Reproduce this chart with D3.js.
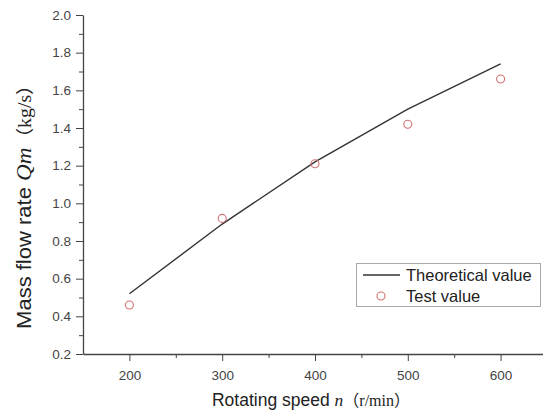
<!DOCTYPE html>
<meta charset="utf-8">
<style>
body { margin: 0; background: #fff; }
text { font-family: "Liberation Sans", Arial, sans-serif; }
.axis path, .axis line { stroke: #444; }
.axis text { font-size: 13.5px; fill: #444; }
</style>
<svg width="543" height="411"></svg>
<script src="https://d3js.org/d3.v7.min.js"></script>
<script>
var speed = [200, 300, 400, 500, 600];
var theory = [0.52, 0.89, 1.22, 1.5, 1.74];
var test = [0.46, 0.92, 1.21, 1.42, 1.66];
var xTicks = [200, 300, 400, 500, 600];
var yTicks = [0.2, 0.4, 0.6, 0.8, 1.0, 1.2, 1.4, 1.6, 1.8, 2.0];

var svg = d3.select("svg");

var x = d3.scaleLinear().domain([150, 650]).range([83, 547]);
var y = d3.scaleLinear().domain([0.2, 2.0]).range([354, 15]);

// minor ticks
svg.append("g")
    .attr("class", "axis")
    .attr("transform", "translate(0,354)")
    .call(d3.axisBottom(x).tickValues(d3.range(250, 651, 100)).tickSize(4).tickFormat(""))
    .select(".domain").remove();
svg.append("g")
    .attr("class", "axis")
    .attr("transform", "translate(83,0)")
    .call(d3.axisLeft(y).tickValues(d3.range(0.3, 2.0, 0.2)).tickSize(4).tickFormat(""))
    .select(".domain").remove();

var xAxis = svg.append("g")
    .attr("class", "axis")
    .attr("transform", "translate(0,354)")
    .call(d3.axisBottom(x).tickValues(xTicks).tickSize(7).tickSizeOuter(0).tickPadding(9));
xAxis.select(".domain").attr("stroke-width", 1.3);

var yAxis = svg.append("g")
    .attr("class", "axis")
    .attr("transform", "translate(83,0)")
    .call(d3.axisLeft(y).tickValues(yTicks).tickSize(7).tickSizeOuter(0).tickPadding(5).tickFormat(d3.format(".1f")));
yAxis.select(".domain").attr("stroke-width", 1.3);

var line = d3.line()
    .x(function(d, i) { return x(speed[i]); })
    .y(function(d) { return y(d); });

svg.append("path")
    .datum(theory)
    .attr("d", line)
    .attr("fill", "none")
    .attr("stroke", "#333")
    .attr("stroke-width", 1.4);

svg.selectAll(".pt")
    .data(test)
    .enter().append("circle")
    .attr("class", "pt")
    .attr("cx", function(d, i) { return x(speed[i]); })
    .attr("cy", function(d) { return y(d); })
    .attr("r", 4)
    .attr("fill", "none")
    .attr("stroke", "#d07070")
    .attr("stroke-width", 1.1);

// legend
var lg = svg.append("g");
lg.append("rect")
    .attr("x", 356.5).attr("y", 263.5).attr("width", 184).attr("height", 43)
    .attr("fill", "#fff").attr("stroke", "#aaa");
lg.append("line")
    .attr("x1", 363).attr("x2", 400).attr("y1", 275).attr("y2", 275)
    .attr("stroke", "#333").attr("stroke-width", 1.4);
lg.append("circle")
    .attr("cx", 381).attr("cy", 296).attr("r", 4)
    .attr("fill", "none").attr("stroke", "#d07070").attr("stroke-width", 1.1);
lg.append("text").attr("x", 406).attr("y", 281).attr("font-size", 16.5).attr("fill", "#222").text("Theoretical value");
lg.append("text").attr("x", 406).attr("y", 302).attr("font-size", 16.5).attr("fill", "#222").text("Test value");

// axis titles
var xt = svg.append("text")
    .attr("x", 311).attr("y", 406)
    .attr("text-anchor", "middle")
    .attr("font-size", 17.5).attr("fill", "#222");
xt.append("tspan").text("Rotating speed ");
xt.append("tspan").attr("font-family", "Liberation Serif, serif").attr("font-style", "italic").text("n");
xt.append("tspan").attr("font-family", "Liberation Serif, Noto Sans CJK SC, serif").attr("font-size", 16).text("（r/min）");

var yt = svg.append("text")
    .attr("transform", "translate(31,202) rotate(-90) scale(1.1,1)")
    .attr("text-anchor", "middle")
    .attr("font-size", 20).attr("fill", "#222");
yt.append("tspan").text("Mass flow rate ");
yt.append("tspan").attr("font-family", "Liberation Serif, serif").attr("font-style", "italic").attr("font-size", 21).text("Qm");
yt.append("tspan").attr("font-family", "Liberation Serif, Noto Sans CJK SC, serif").attr("font-size", 18).text("（kg/s）");
</script>
